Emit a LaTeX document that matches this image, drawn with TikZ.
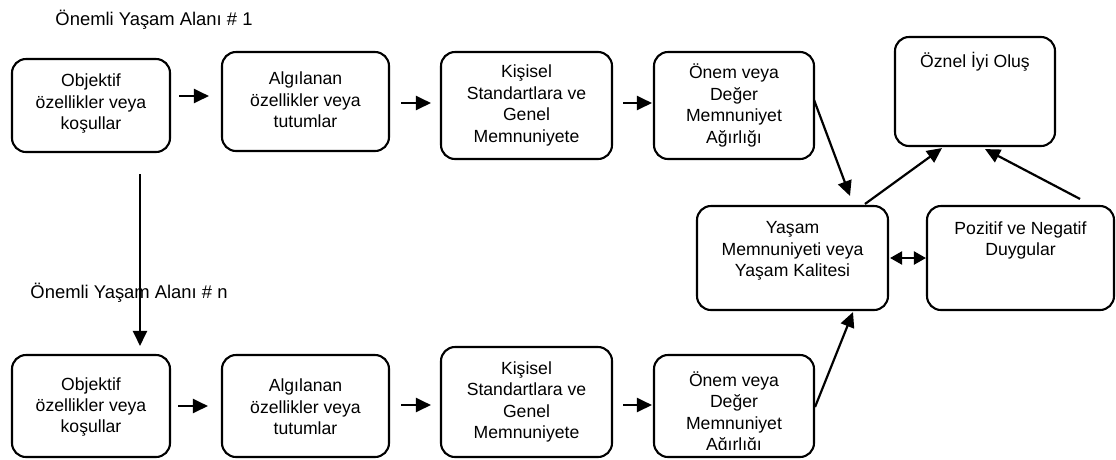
\documentclass[tikz,border=0pt]{standalone}
\usepackage{fontspec}
\setmainfont{Liberation Sans}
\usetikzlibrary{arrows.meta}
\begin{document}
\begin{tikzpicture}[x=1pt,y=-1pt,
  box/.style={draw, line width=2.1pt, rounded corners=14pt, inner sep=0pt},
  txt/.style={align=center, inner sep=0pt, font=\fontsize{17.6}{21.4}\selectfont},
  lbl/.style={inner sep=0pt, font=\fontsize{18.4}{22}\selectfont},
  arr/.style={line width=2.2pt, -{Triangle[length=15pt,width=14pt]}},
  dbl/.style={line width=2.2pt, {Triangle[length=12pt,width=13pt]}-{Triangle[length=12pt,width=13pt]}}]
\useasboundingbox (0,0) rectangle (1116,459);

% domain labels
\node[lbl] (L1) at (154,20) {Önemli Yaşam Alanı \# 1};
\node[lbl] (Ln) at (129,293) {Önemli Yaşam Alanı \# n};

% top chain
\node[box, minimum width=158pt, minimum height=93pt] (b1) at (91,105.5) {};
\node[box, minimum width=167pt, minimum height=99pt] (b2) at (305.5,101.5) {};
\node[box, minimum width=171pt, minimum height=107pt] (b3) at (526.5,105.5) {};
\node[box, minimum width=160pt, minimum height=107pt] (b4) at (734,105.5) {};

\node[txt] (t1) at (91,103.5) {Objektif\\özellikler veya\\koşullar};
\node[txt] (t2) at (305.5,100) {Algılanan\\özellikler veya\\tutumlar};
\node[txt] (t3) at (526.5,105.5) {Kişisel\\Standartlara ve\\Genel\\Memnuniyete};
\node[txt] (t4) at (734,105.5) {Önem veya\\Değer\\Memnuniyet\\Ağırlığı};

% right-hand block
\node[box, minimum width=160pt, minimum height=109pt] (oz) at (975,91.5) {};
\node[box, minimum width=191pt, minimum height=104pt] (ym) at (792.5,258) {};
\node[box, minimum width=187pt, minimum height=104pt] (pn) at (1020.5,258) {};

\node[txt] (t5) at (975,62) {Öznel İyi Oluş};
\node[txt] (t6) at (792.5,251) {Yaşam\\Memnuniyeti veya\\Yaşam Kalitesi};
\node[txt] (t7) at (1020.5,240.5) {Pozitif ve Negatif\\Duygular};

% bottom chain
\node[box, minimum width=158pt, minimum height=102pt] (c1) at (91,406) {};
\node[box, minimum width=167pt, minimum height=102pt] (c2) at (305.5,406) {};
\node[box, minimum width=171pt, minimum height=110pt] (c3) at (526.5,402) {};
\node[box, minimum width=160pt, minimum height=102pt] (c4) at (734,406) {};

\node[txt] (u1) at (91,407) {Objektif\\özellikler veya\\koşullar};
\node[txt] (u2) at (305.5,407) {Algılanan\\özellikler veya\\tutumlar};
\node[txt] (u3) at (526.5,402) {Kişisel\\Standartlara ve\\Genel\\Memnuniyete};
\begin{scope}
  \clip (656,357) rectangle (812,449);
  \node[txt] (u4) at (734,413) {Önem veya\\Değer\\Memnuniyet\\Ağırlığı};
\end{scope}

% connectors, top chain
\draw[arr] ([shift={(8,-9.5)}]b1.east) -- ([shift={(-12,-5.5)}]b2.west);
\draw[arr] ([shift={(11,1.5)}]b2.east) -- ([shift={(-9,-2.5)}]b3.west);
\draw[arr] ([shift={(10,-2.5)}]b3.east) -- ([shift={(-1,-2.5)}]b4.west);
\draw[arr] ([shift={(-1,-5.5)}]b4.east) -- ([shift={(57.5,-9)}]ym.north);

% connectors, bottom chain
\draw[arr] ([shift={(7,0)}]c1.east) -- ([shift={(-13,0)}]c2.west);
\draw[arr] ([shift={(11,-1)}]c2.east) -- ([shift={(-9,3)}]c3.west);
\draw[arr] ([shift={(10,3)}]c3.east) -- ([shift={(-1,-1)}]c4.west);
\draw[arr] ([shift={(0,1)}]c4.east) -- ([shift={(60.5,1)}]ym.south);

% domain 1 to domain n
\draw[arr] ([shift={(49,21)}]b1.south) -- ([shift={(49,-8)}]c1.north);

% towards subjective well-being
\draw[arr] ([shift={(72.5,-1)}]ym.north) -- ([shift={(-33,1)}]oz.south);
\draw[arr] ([shift={(59.5,-6)}]pn.north) -- ([shift={(10,2)}]oz.south);
\draw[dbl] ([shift={(1,0)}]ym.east) -- (pn.west);
\end{tikzpicture}
\end{document}
